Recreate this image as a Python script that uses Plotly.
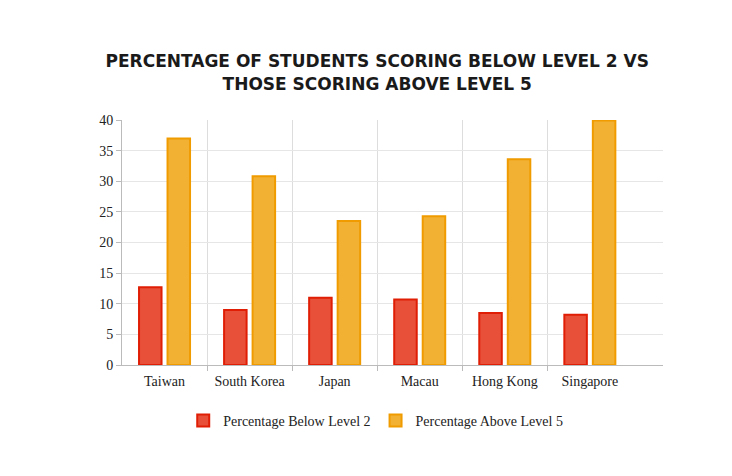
import plotly.graph_objects as go

paises = ['Taiwan', 'South Korea', 'Japan', 'Macau', 'Hong Kong', 'Singapore']
abaixo_nivel2 = [12.7, 9.0, 11.0, 10.7, 8.5, 8.2]
acima_nivel5 = [37.0, 30.8, 23.5, 24.3, 33.6, 39.9]

pos = list(range(len(paises)))
divisas = [i + 0.5 for i in pos[:-1]]

fig = go.Figure()
fig.add_trace(go.Bar(x=pos, y=abaixo_nivel2, name='Percentage Below Level 2',
                     marker_color='#e8503a', marker_line_color='#e01e05', marker_line_width=2))
fig.add_trace(go.Bar(x=pos, y=acima_nivel5, name='Percentage Above Level 5',
                     marker_color='#f3b134', marker_line_color='#f09c00', marker_line_width=2))

# a pagina tem margem de 8px no body, por isso 724x468
fig.update_layout(
    width=724, height=468,
    margin=dict(l=114, r=69, t=112, b=111),
    paper_bgcolor='white', plot_bgcolor='white',
    barmode='group', bargap=0.33, bargroupgap=0.21,
    title=dict(text='PERCENTAGE OF STUDENTS SCORING BELOW LEVEL 2 VS<br>THOSE SCORING ABOVE LEVEL 5',
               x=0.51, xanchor='center', y=0.873, yanchor='middle',
               font=dict(family='DejaVu Sans', size=17, color='#1a1a1a', weight=600)),
    font=dict(family='Liberation Serif', size=14, color='#222222'),
    legend=dict(orientation='h', x=0.469, xanchor='center', y=-0.163, yanchor='top',
                font=dict(family='Liberation Serif', size=14, color='#222222'),
                itemwidth=30),
    showlegend=True,
)
fig.update_xaxes(range=[-0.5, 5.86], tickvals=pos, ticktext=paises, ticks='', showgrid=False,
                 ticklabelstandoff=3,
                 minor=dict(tickvals=divisas, showgrid=True, gridcolor='#dddddd',
                            ticks='outside', ticklen=5, tickcolor='#bbbbbb'),
                 showline=True, linecolor='#bbbbbb')
fig.update_yaxes(range=[0, 40], dtick=5, showgrid=True, gridcolor='#e6e6e6',
                 showline=True, linecolor='#bbbbbb', ticks='outside', ticklen=5, tickcolor='#bbbbbb',
                 zeroline=False)
fig.write_html('out.html')
